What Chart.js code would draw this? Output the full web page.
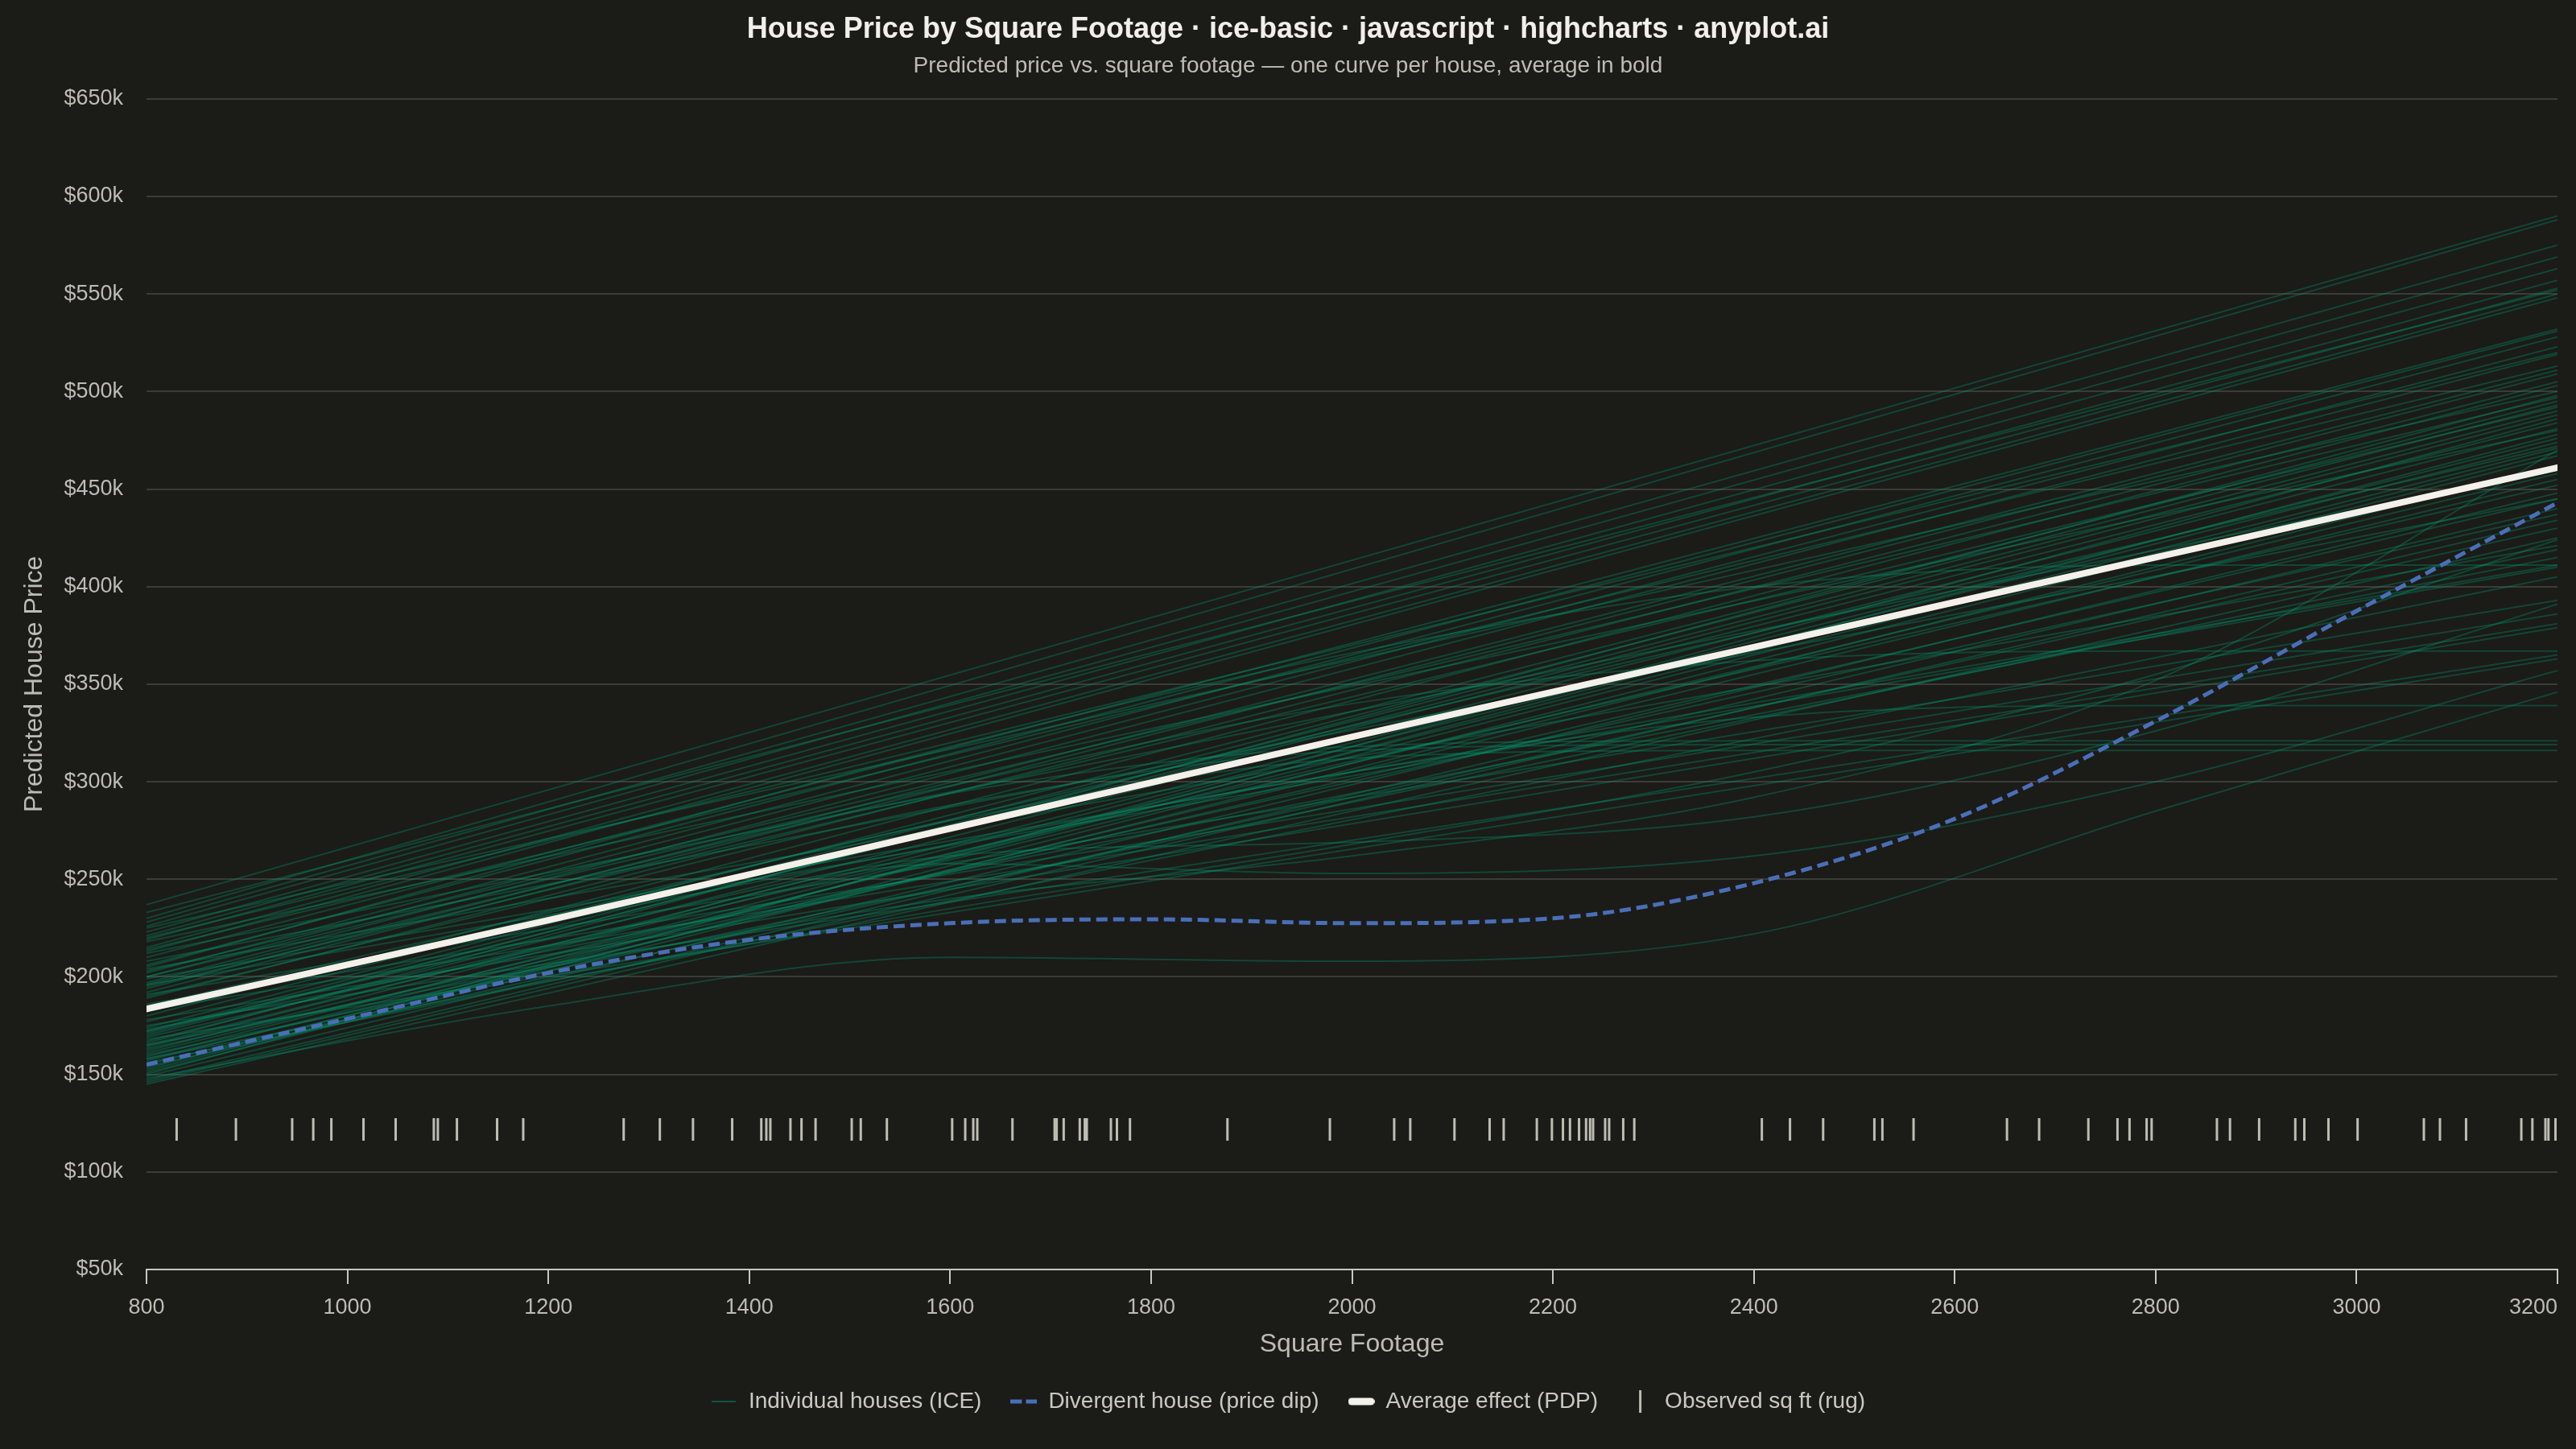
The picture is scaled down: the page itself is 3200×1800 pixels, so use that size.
<!DOCTYPE html>
<html>
<head>
<meta charset="utf-8">
<title>House Price by Square Footage</title>
<script src="https://cdn.jsdelivr.net/npm/chart.js@4.4.1/dist/chart.umd.min.js"></script>
<style>
  html, body { margin: 0; padding: 0; background: #1b1b18; }
  #wrap { width: 3200px; height: 1800px; position: relative; }
</style>
</head>
<body>
<div id="wrap"><canvas id="chart"></canvas></div>
<script>
// ---------------- DATA (prices in $k) ----------------
const xTicks = [800, 1000, 1200, 1400, 1600, 1800, 2000, 2200, 2400, 2600, 2800, 3000, 3200];
const yTicks = [50, 100, 150, 200, 250, 300, 350, 400, 450, 500, 550, 600, 650];

// Grid of square footage at which the curved ICE houses / PDP were read
const sqftGrid = [800, 1200, 1600, 2000, 2400, 2800, 3200];

// Individual houses whose curve is (close to) straight: price at 800 and at 3200 sq ft
const straightStart = [237, 230, 228, 226, 223, 221, 219, 215, 213, 210,
                       206, 202, 200, 197, 194, 192, 189, 180, 177, 174,
                       172, 170, 167, 164, 162, 159, 157, 152, 149, 146,
                       145, 225, 218, 212, 208, 204, 199, 196, 191, 186,
                       183, 178, 175, 168, 160, 155, 150, 166, 171, 185,
                       195, 203, 214, 220, 233, 147, 151, 154, 158, 161,
                       163, 169, 153, 156, 173];
const straightEnd   = [590, 588, 575, 569, 563, 557, 553, 550, 548, 532,
                       531, 528, 523, 519, 511, 509, 505, 503, 495, 493,
                       490, 488, 481, 476, 474, 471, 469, 467, 448, 434,
                       425, 500, 480, 460, 445, 421, 411, 410, 393, 386,
                       381, 379, 365, 363, 419, 455, 486, 498, 484, 472,
                       492, 497, 513, 520, 552, 440, 462, 430, 445, 458,
                       437, 452, 478, 405, 415];

// Individual houses with bent curves, price at each sqftGrid point
const curvedHouses = [
  [148, 185, 210, 208, 222, 285, 346],
  [165, 215, 258, 253, 262, 300, 357],
  [172, 220, 262, 269, 282, 326, 391],
  [165, 205, 240, 262, 292, 352, 470],
  [190, 240, 288, 316, 319, 319, 319],
  [182, 231, 280, 312, 316, 316, 316],
  [196, 247, 294, 318, 321, 321, 321],
  [185, 228, 268, 305, 333, 339, 339],
  [200, 250, 298, 340, 362, 367, 367],
  [158, 198, 235, 268, 305, 355, 424],
  [205, 262, 318, 366, 400, 411, 411]
];

// Divergent house (price dip)
const divergentSqft  = [800, 1000, 1200, 1400, 1600, 1800, 2000, 2200, 2400, 2600, 2800, 3000, 3200];
const divergentPrice = [155, 178.5, 202, 219, 227.5, 229.5, 227.5, 230, 248, 281, 331, 387.5, 443];

// Average effect (PDP)
const pdpPrice = [183.5, 229, 276, 323, 369, 415, 461];

// Observed square footage (rug)
const rugSqft = [830, 889, 945, 966, 984, 1016, 1048, 1086, 1090, 1109, 1149, 1175,
                 1275, 1311, 1344, 1383, 1412, 1417, 1421, 1441, 1452, 1466, 1502, 1511, 1537,
                 1602, 1615, 1623, 1627, 1662, 1704, 1706, 1713, 1729, 1734, 1736, 1760, 1766, 1779,
                 1876, 1978, 2042, 2058, 2102, 2137, 2151, 2184, 2199, 2210, 2217, 2226, 2233, 2237,
                 2240, 2252, 2256, 2270, 2281,
                 2408, 2436, 2469, 2520, 2528, 2559, 2652, 2684, 2733, 2762, 2774, 2791, 2796,
                 2861, 2874, 2903, 2939, 2948, 2972, 3001, 3067, 3083, 3109, 3164, 3175, 3188, 3191, 3198];
const rugLevel = 121.75;

// ---------------- STYLE ----------------
const FONT = "'Liberation Sans', Arial, Helvetica, sans-serif";
Chart.defaults.font.family = FONT;
const ICE_COLOR = 'rgba(0, 158, 115, 0.32)';
const DIV_COLOR = '#4a6fb8';
const PDP_COLOR = '#f3f1ea';
const RUG_COLOR = '#bdbdb3';
const TEXT_COLOR = '#bdbcb4';

function makeIcon(w, h, draw) {
  const c = document.createElement('canvas');
  c.width = w; c.height = h;
  draw(c.getContext('2d'), w, h);
  return c;
}
const iconICE = makeIcon(30, 28, (g, w, h) => {
  g.strokeStyle = 'rgba(0, 158, 115, 0.45)'; g.lineWidth = 2;
  g.beginPath(); g.moveTo(0, h / 2); g.lineTo(w, h / 2); g.stroke();
});
const iconDiv = makeIcon(33, 28, (g, w, h) => {
  g.fillStyle = DIV_COLOR;
  g.fillRect(0, h / 2 - 2.5, 14, 5);
  g.fillRect(19, h / 2 - 2.5, 14, 5);
});
const iconPDP = makeIcon(33, 28, (g, w, h) => {
  g.fillStyle = PDP_COLOR;
  g.beginPath();
  if (g.roundRect) g.roundRect(0, h / 2 - 4.5, w, 9, 4.5); else g.rect(0, h / 2 - 4.5, w, 9);
  g.fill();
});
const iconRug = makeIcon(33, 28, (g, w, h) => {
  g.fillStyle = RUG_COLOR;
  g.fillRect(w / 2 - 1.5, 0, 3, h);
});

// ---------------- DATASETS ----------------
const datasets = [];
datasets.push({
  label: 'Average effect (PDP)',
  data: sqftGrid.map((x, i) => ({ x, y: pdpPrice[i] })),
  borderColor: PDP_COLOR, borderWidth: 8, borderCapStyle: 'round',
  pointRadius: 0, pointHoverRadius: 0, cubicInterpolationMode: 'monotone'
});
datasets.push({
  label: 'Divergent house (price dip)',
  data: divergentSqft.map((x, i) => ({ x, y: divergentPrice[i] })),
  borderColor: DIV_COLOR, borderWidth: 5, borderDash: [14, 7],
  pointRadius: 0, pointHoverRadius: 0, cubicInterpolationMode: 'monotone'
});
datasets.push({
  type: 'scatter',
  label: 'Observed sq ft (rug)',
  data: rugSqft.map(x => ({ x, y: rugLevel })),
  showLine: false,
  pointStyle: 'line', pointRotation: 90, pointRadius: 14, pointHoverRadius: 14,
  pointBorderWidth: 3, pointBorderColor: RUG_COLOR, borderColor: RUG_COLOR, backgroundColor: RUG_COLOR
});
const iceFirstIndex = datasets.length;
straightStart.forEach((s, i) => {
  datasets.push({
    label: 'Individual houses (ICE)',
    data: [{ x: 800, y: s }, { x: 3200, y: straightEnd[i] }],
    borderColor: ICE_COLOR, borderWidth: 2, pointRadius: 0, pointHoverRadius: 0
  });
});
curvedHouses.forEach(v => {
  datasets.push({
    label: 'Individual houses (ICE)',
    data: sqftGrid.map((x, i) => ({ x, y: v[i] })),
    borderColor: ICE_COLOR, borderWidth: 2, pointRadius: 0, pointHoverRadius: 0,
    cubicInterpolationMode: 'monotone'
  });
});

const xMax = xTicks[xTicks.length - 1];

// ---------------- CHART ----------------
new Chart(document.getElementById('chart'), {
  type: 'line',
  data: { datasets },
  options: {
    responsive: true,
    maintainAspectRatio: false,
    animation: false,
    events: [],
    layout: { padding: { left: 20, right: 20, top: 0, bottom: 35 } },
    plugins: {
      title: {
        display: true,
        text: 'House Price by Square Footage \u00b7 ice-basic \u00b7 javascript \u00b7 highcharts \u00b7 anyplot.ai',
        color: '#f0efe9',
        font: { size: 36, weight: 'bold', family: FONT },
        padding: { top: 15, bottom: 1 }
      },
      subtitle: {
        display: true,
        text: 'Predicted price vs. square footage \u2014 one curve per house, average in bold',
        color: TEXT_COLOR,
        font: { size: 28, family: FONT },
        padding: { top: 6, bottom: 24 }
      },
      legend: {
        display: true,
        position: 'bottom',
        labels: {
          color: '#cac9c1',
          font: { size: 28, family: FONT },
          usePointStyle: true,
          pointStyleWidth: 33,
          padding: 36,
          generateLabels: () => [
            { text: 'Individual houses (ICE)', pointStyle: iconICE, datasetIndex: iceFirstIndex },
            { text: 'Divergent house (price dip)', pointStyle: iconDiv, datasetIndex: 1 },
            { text: 'Average effect (PDP)', pointStyle: iconPDP, datasetIndex: 0 },
            { text: 'Observed sq ft (rug)', pointStyle: iconRug, datasetIndex: 2 }
          ].map(it => Object.assign(it, {
            fillStyle: 'rgba(0,0,0,0)', strokeStyle: 'rgba(0,0,0,0)', lineWidth: 0,
            hidden: false, fontColor: '#cac9c1'
          }))
        }
      },
      tooltip: { enabled: false }
    },
    scales: {
      x: {
        type: 'linear',
        min: 800, max: 3200,
        afterBuildTicks: s => { s.ticks = xTicks.map(v => ({ value: v })); },
        afterFit: s => { s.height = 114; s.paddingRight = 23; },
        ticks: {
          color: TEXT_COLOR, font: { size: 27, family: FONT }, padding: 13,
          maxRotation: 0, autoSkip: false,
          // last label is kept inside the plot edge (right-aligned look)
          callback: v => (v === xMax ? String(v) + '        ' : String(v))
        },
        grid: {
          drawOnChartArea: false, drawTicks: true, tickLength: 18,
          tickColor: '#c8c8c0', tickWidth: 2, color: '#c8c8c0', lineWidth: 2
        },
        border: { display: true, color: '#c8c8c0', width: 2 },
        title: {
          display: true, text: 'Square Footage', color: TEXT_COLOR,
          font: { size: 32, family: FONT }, padding: { top: 10, bottom: 2 }
        }
      },
      y: {
        type: 'linear',
        min: 50, max: 650,
        afterBuildTicks: s => { s.ticks = yTicks.map(v => ({ value: v })); },
        afterFit: s => { s.width = 162; },
        ticks: {
          color: TEXT_COLOR, font: { size: 27, family: FONT }, padding: 29,
          callback: v => '$' + v + 'k'
        },
        grid: {
          drawTicks: false, lineWidth: 2,
          color: c => (c.tick && c.tick.value === 50) ? 'rgba(0,0,0,0)' : '#3b3b37'
        },
        border: { display: false },
        title: {
          display: true, text: 'Predicted House Price', color: TEXT_COLOR,
          font: { size: 32, family: FONT }, padding: { top: 4, bottom: 0 }
        }
      }
    }
  }
});
</script>
</body>
</html>
